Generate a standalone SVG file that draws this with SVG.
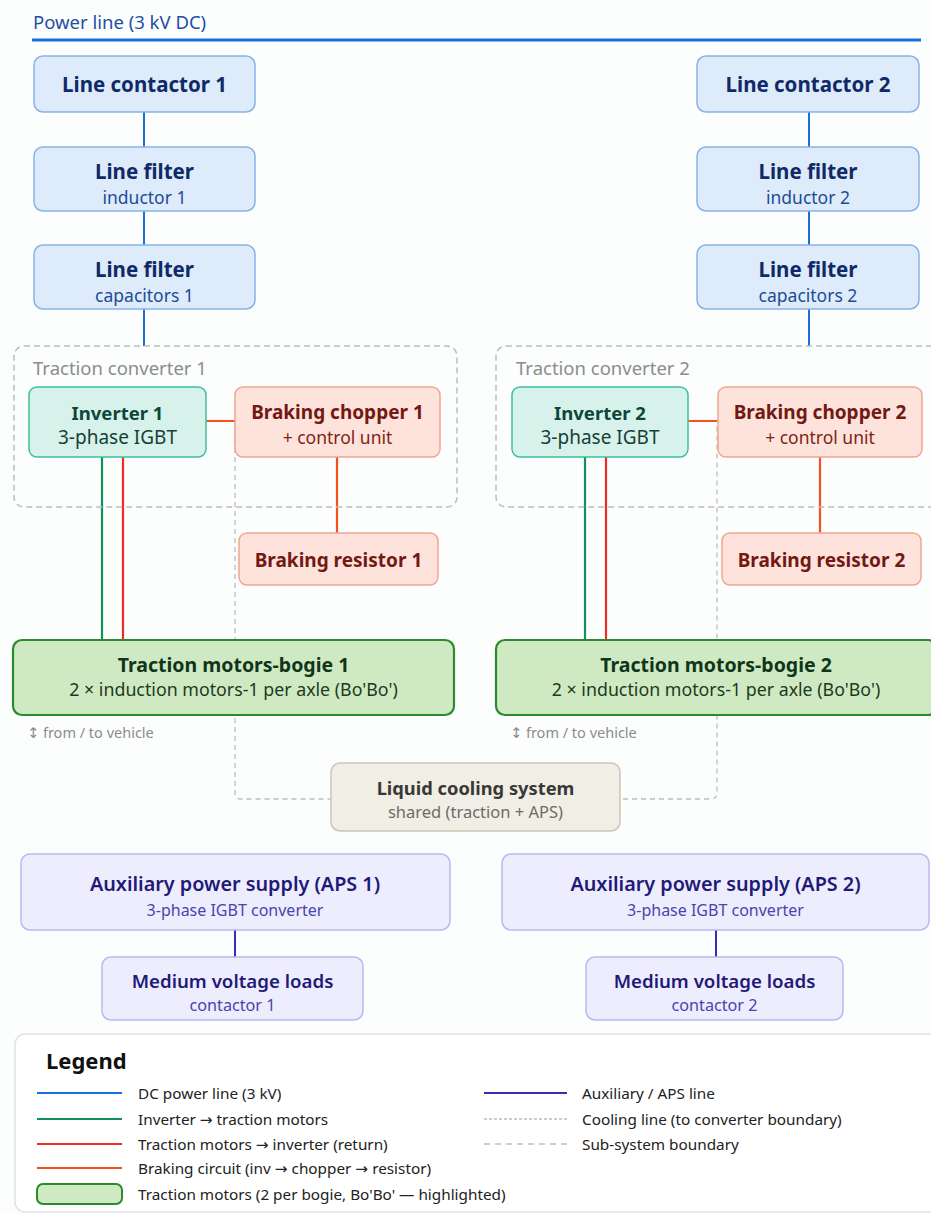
<svg xmlns="http://www.w3.org/2000/svg" width="931" height="1214" viewBox="0 0 931 1214">
<defs>
<style>
text{font-family:"Noto Sans","Open Sans","DejaVu Sans",sans-serif;}
.c{text-anchor:middle;dominant-baseline:central;}
.blue rect{fill:#ddebfa;stroke:#86b3e6;stroke-width:1.5;}
.blue .h{fill:#0f2a66;font-size:20.5px;font-weight:700;}
.blue .s{fill:#1f4c96;font-size:17.5px;}
.teal rect{fill:#d6f2eb;stroke:#3fbf9d;stroke-width:1.5;}
.teal .h{fill:#0e463a;font-size:18.5px;font-weight:700;}
.teal .s{fill:#173f37;font-size:19px;}
.red rect{fill:#fde3db;stroke:#f1a58f;stroke-width:1.5;}
.red .h{fill:#731813;font-size:19px;font-weight:700;}
.red .s{fill:#7e2416;font-size:17.5px;}
.grn rect{fill:#cfeac3;stroke:#2b8a2e;stroke-width:2.2;}
.grn .h{fill:#10351a;font-size:19.5px;font-weight:700;}
.grn .s{fill:#1d3a20;font-size:17.8px;}
.cool rect{fill:#f1eee6;stroke:#cdc6b6;stroke-width:1.5;}
.cool .h{fill:#3a3836;font-size:18.3px;font-weight:700;}
.cool .s{fill:#6e6b66;font-size:16.5px;}
.aps rect{fill:#eeedfd;stroke:#bcb8ef;stroke-width:1.5;}
.aps .h{fill:#1f1a78;font-size:19.8px;font-weight:600;}
.aps .s{fill:#4a43b0;font-size:16px;}
.aps .h2{fill:#1f1a78;font-size:18.7px;font-weight:600;}
.aps .s2{fill:#4a43b0;font-size:16.2px;}
.bound{fill:none;stroke:#bdbdbd;stroke-width:1.5;stroke-dasharray:6 4;}
.blab{fill:#8c8c8c;font-size:18.5px;dominant-baseline:central;}
.note{fill:#8c8c8c;font-size:14.5px;dominant-baseline:central;}
.dc{stroke:#1a6fdc;stroke-width:2;fill:none;}
.inv{stroke:#14905a;stroke-width:2.2;fill:none;}
.ret{stroke:#f02a24;stroke-width:2.2;fill:none;}
.brk{stroke:#f4511e;stroke-width:2.2;fill:none;}
.apsl{stroke:#3a2db0;stroke-width:2;fill:none;}
.coolL{stroke:#bdbdbd;stroke-width:1.3;stroke-dasharray:5 4;fill:none;}
.lg{fill:#222;font-size:15.3px;dominant-baseline:central;}
</style>
</defs>
<rect width="931" height="1214" fill="#fcfdfd"/>

<g id="power-line">
<text x="33" y="21" style="fill:#1e4fa3;font-size:18.5px;dominant-baseline:central">Power line (3 kV DC)</text>
<line x1="32" y1="40" x2="921" y2="40" stroke="#1a6fdc" stroke-width="3"/>
</g>

<g id="connectors">
<path class="dc" d="M144 112V147M144 211V245M144 309V346"/>
<path class="dc" d="M809 112V147M809 211V245M809 309V346"/>
<path class="brk" d="M206 421H235M337 457V533"/>
<path class="brk" d="M688 421H718M820 457V533"/>
<path class="inv" d="M102 457V640M585 457V640"/>
<path class="ret" d="M123 457V640M606 457V640"/>
<path class="coolL" d="M235 421V793Q235 799 241 799H331M614 799H711Q717 799 717 793V421"/>
<path class="apsl" d="M235 930V957M716 930V957"/>
</g>

<g id="traction-converter-1">
<rect class="bound" x="14" y="346" width="443" height="161" rx="10"/>
<text class="blab" x="33" y="367">Traction converter 1</text>
</g>
<g id="traction-converter-2">
<rect class="bound" x="496" y="346" width="443" height="161" rx="10"/>
<text class="blab" x="516" y="367">Traction converter 2</text>
</g>

<g id="line-contactor-1" class="blue"><rect x="34" y="56" width="221" height="56" rx="9"/><text class="c h" x="144.5" y="84">Line contactor 1</text></g>
<g id="line-filter-inductor-1" class="blue"><rect x="34" y="147" width="221" height="64" rx="9"/><text class="c h" x="144.5" y="171">Line filter</text><text class="c s" x="144.5" y="197">inductor 1</text></g>
<g id="line-filter-capacitors-1" class="blue"><rect x="34" y="245" width="221" height="64" rx="9"/><text class="c h" x="144.5" y="269">Line filter</text><text class="c s" x="144.5" y="295">capacitors 1</text></g>

<g id="line-contactor-2" class="blue"><rect x="697" y="56" width="222" height="56" rx="9"/><text class="c h" x="808" y="84">Line contactor 2</text></g>
<g id="line-filter-inductor-2" class="blue"><rect x="697" y="147" width="222" height="64" rx="9"/><text class="c h" x="808" y="171">Line filter</text><text class="c s" x="808" y="197">inductor 2</text></g>
<g id="line-filter-capacitors-2" class="blue"><rect x="697" y="245" width="222" height="64" rx="9"/><text class="c h" x="808" y="269">Line filter</text><text class="c s" x="808" y="295">capacitors 2</text></g>

<g id="inverter-1" class="teal"><rect x="29" y="387" width="177" height="70" rx="8"/><text class="c h" x="117.5" y="412">Inverter 1</text><text class="c s" x="117.5" y="437">3-phase IGBT</text></g>
<g id="braking-chopper-1" class="red"><rect x="235" y="387" width="205" height="70" rx="8"/><text class="c h" x="337.5" y="412">Braking chopper 1</text><text class="c s" x="337.5" y="437">+ control unit</text></g>
<g id="braking-resistor-1" class="red"><rect x="239" y="533" width="199" height="52" rx="8"/><text class="c h" x="338.5" y="560">Braking resistor 1</text></g>
<g id="traction-motors-1" class="grn"><rect x="13" y="640" width="441" height="75" rx="9"/><text class="c h" x="233.5" y="664">Traction motors-bogie 1</text><text class="c s" x="233.5" y="689">2 × induction motors-1 per axle (Bo'Bo')</text></g>
<text class="note" x="27" y="732">↕ from / to vehicle</text>

<g id="inverter-2" class="teal"><rect x="512" y="387" width="176" height="70" rx="8"/><text class="c h" x="600" y="412">Inverter 2</text><text class="c s" x="600" y="437">3-phase IGBT</text></g>
<g id="braking-chopper-2" class="red"><rect x="718" y="387" width="204" height="70" rx="8"/><text class="c h" x="820" y="412">Braking chopper 2</text><text class="c s" x="820" y="437">+ control unit</text></g>
<g id="braking-resistor-2" class="red"><rect x="722" y="533" width="199" height="52" rx="8"/><text class="c h" x="821.5" y="560">Braking resistor 2</text></g>
<g id="traction-motors-2" class="grn"><rect x="496" y="640" width="441" height="75" rx="9"/><text class="c h" x="716" y="664">Traction motors-bogie 2</text><text class="c s" x="716" y="689">2 × induction motors-1 per axle (Bo'Bo')</text></g>
<text class="note" x="510" y="732">↕ from / to vehicle</text>

<g id="liquid-cooling" class="cool"><rect x="331" y="763" width="289" height="68" rx="9"/><text class="c h" x="475.5" y="787">Liquid cooling system</text><text class="c s" x="475.5" y="811">shared (traction + APS)</text></g>

<g id="aps-1" class="aps"><rect x="21" y="854" width="429" height="76" rx="9"/><text class="c h" x="235" y="883">Auxiliary power supply (APS 1)</text><text class="c s" x="235" y="910">3-phase IGBT converter</text></g>
<g id="mv-loads-1" class="aps"><rect x="102" y="957" width="261" height="63" rx="9"/><text class="c h2" x="232.5" y="980">Medium voltage loads</text><text class="c s2" x="232.5" y="1005">contactor 1</text></g>
<g id="aps-2" class="aps"><rect x="502" y="854" width="427" height="76" rx="9"/><text class="c h" x="715.5" y="883">Auxiliary power supply (APS 2)</text><text class="c s" x="715.5" y="910">3-phase IGBT converter</text></g>
<g id="mv-loads-2" class="aps"><rect x="586" y="957" width="257" height="63" rx="9"/><text class="c h2" x="714.5" y="980">Medium voltage loads</text><text class="c s2" x="714.5" y="1005">contactor 2</text></g>

<g id="legend">
<rect x="15" y="1034" width="925" height="178" rx="10" fill="#ffffff" stroke="#e2e2e2" stroke-width="1.5"/>
<text x="46" y="1060" style="fill:#111;font-size:22px;font-weight:700;dominant-baseline:central">Legend</text>
<line x1="37" y1="1093" x2="122" y2="1093" stroke="#1a6fdc" stroke-width="2"/>
<text class="lg" x="138" y="1093">DC power line (3 kV)</text>
<line x1="37" y1="1119" x2="122" y2="1119" stroke="#14905a" stroke-width="2"/>
<text class="lg" x="138" y="1119">Inverter → traction motors</text>
<line x1="37" y1="1144" x2="122" y2="1144" stroke="#f02a24" stroke-width="2"/>
<text class="lg" x="138" y="1144">Traction motors → inverter (return)</text>
<line x1="37" y1="1168" x2="122" y2="1168" stroke="#f4511e" stroke-width="2"/>
<text class="lg" x="138" y="1168">Braking circuit (inv → chopper → resistor)</text>
<rect x="37" y="1184" width="85" height="20" rx="6" fill="#cfeac3" stroke="#2b8a2e" stroke-width="2"/>
<text class="lg" x="138" y="1194">Traction motors (2 per bogie, Bo'Bo' — highlighted)</text>
<line x1="484" y1="1093" x2="567" y2="1093" stroke="#3a2db0" stroke-width="2"/>
<text class="lg" x="582" y="1093">Auxiliary / APS line</text>
<line x1="484" y1="1119" x2="567" y2="1119" stroke="#bdbdbd" stroke-width="1.3" stroke-dasharray="3 2"/>
<text class="lg" x="582" y="1119">Cooling line (to converter boundary)</text>
<line x1="484" y1="1144" x2="567" y2="1144" stroke="#bdbdbd" stroke-width="1.5" stroke-dasharray="6 5"/>
<text class="lg" x="582" y="1144">Sub-system boundary</text>
</g>
</svg>
